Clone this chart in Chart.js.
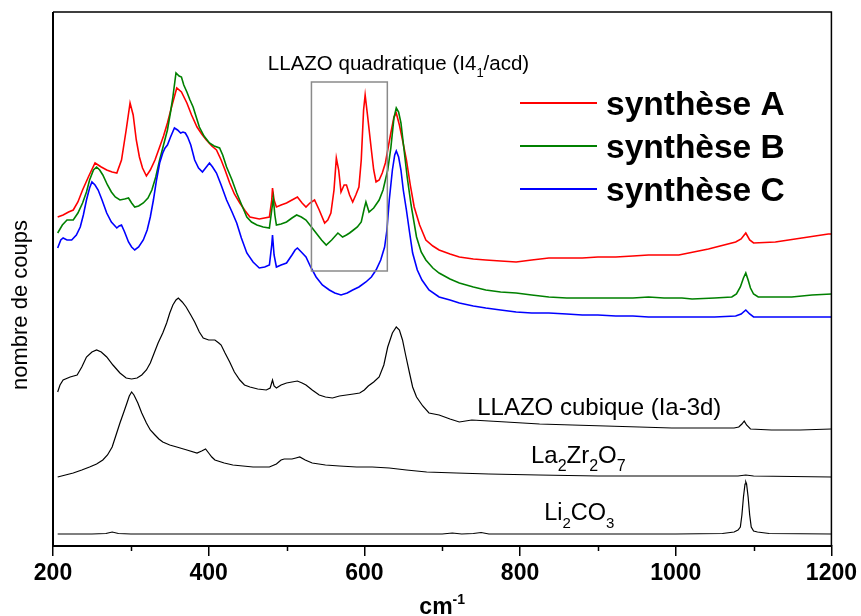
<!DOCTYPE html>
<html>
<head>
<meta charset="utf-8">
<script src="https://cdn.jsdelivr.net/npm/chart.js@4/dist/chart.umd.min.js"></script>
<style>
  html, body { margin: 0; padding: 0; background: #fff; }
  #wrap { width: 861px; height: 616px; }
</style>
</head>
<body>
<div id="wrap"><canvas id="c" width="861" height="616"></canvas></div>
<script>
// ---------- DATA (Raman shift in cm-1, intensity in arbitrary counts) ----------
const xTicks = [200, 400, 600, 800, 1000, 1200];
const seriesNames = ["synthèse A", "synthèse B", "synthèse C"];

const xA = [206,213,220,226,232,238,246,254,262,269,276,282,288,294,299,303,307,311,315,320,325,331,337,342,347,353,359,365,372,378,385,391,397,404,410,416,421,427,433,440,447,453,465,478,481,482,484,487,493,500,507,514,520,525,530,536,542,549,553,557,561,564,567,570,574,577,581,585,589,593,596,599,601,604,609,612,615,619,623,627,630,634,638,641,645,649,654,659,664,671,679,688,696,710,722,740,756,775,795,815,837,860,880,900,923,945,965,985,1004,1042,1077,1084,1090,1095,1100,1128,1162,1196,1200];
const yA = [329,331,334,336,344,356,370,383,379,376,374,373,386,416,443,431,406,389,378,370,376,386,399,410,423,441,458,454,443,431,419,412,406,400,396,386,376,363,352,343,335,329,327,329,346,358,346,339,341,343,346,349,343,339,343,346,336,323,326,333,356,388,376,354,361,361,351,344,351,359,386,436,451,431,396,376,364,366,373,383,396,413,429,433,421,406,386,361,339,321,306,300,296,292,289,287,286,285,284,286,288,288,288,289,289,290,291,291,291,297,304,307,313,306,303,304,308,312,312];

const xB = [206,212,218,226,232,238,243,247,252,256,260,264,270,275,280,286,292,297,301,305,310,316,322,327,332,337,342,347,351,354,358,362,365,368,372,376,380,384,388,394,401,407,414,418,423,430,436,443,449,455,462,470,478,481,483,485,487,493,500,507,513,519,525,532,538,545,551,558,566,572,577,581,586,591,596,600,602,606,612,619,624,630,634,638,641,644,647,651,655,660,667,673,679,688,696,710,722,740,756,775,795,815,837,860,880,900,923,945,965,985,1008,1021,1050,1072,1078,1083,1087,1090,1093,1096,1100,1106,1149,1175,1200];
const yB = [313,321,326,326,333,343,354,366,376,379,376,371,361,354,349,346,347,348,343,339,340,343,348,356,369,386,401,416,434,449,473,470,469,461,454,446,439,429,419,410,403,400,398,391,379,366,353,340,329,324,321,319,318,336,348,331,321,322,324,328,331,329,326,319,313,306,301,306,313,309,311,313,316,319,324,338,344,334,338,346,356,376,398,428,438,434,423,396,369,341,309,294,286,278,273,267,263,259,256,254,253,251,249,248,248,248,248,248,249,248,248,247,248,249,252,259,268,273,266,258,252,249,249,251,252];

const xC = [206,210,213,218,224,230,235,239,243,247,250,254,258,263,269,275,282,285,288,292,297,301,305,310,316,321,325,329,333,337,341,344,347,351,356,360,364,367,370,373,377,382,387,392,396,401,405,410,416,423,430,436,442,449,457,465,472,478,481,482,484,487,493,500,507,511,514,519,525,531,538,546,555,562,570,578,585,593,602,609,615,621,626,629,632,636,639,641,644,647,650,654,658,662,668,674,683,696,710,722,740,756,775,795,815,837,860,880,900,923,945,965,985,1008,1050,1077,1084,1090,1095,1100,1130,1160,1200];
const yC = [298,306,308,306,306,311,319,331,346,358,364,361,356,346,333,324,318,320,321,314,304,299,296,299,306,316,329,346,366,383,393,398,401,409,418,416,413,414,413,409,401,386,378,374,378,383,379,373,361,346,334,323,308,293,284,278,279,281,301,311,291,279,281,283,291,296,298,294,289,279,269,261,256,253,251,253,256,259,264,269,276,286,299,316,346,376,391,395,389,376,356,336,314,293,276,266,256,249,246,243,240,238,236,234,233,233,232,231,231,230,230,229,229,229,229,230,232,236,232,229,229,229,229];

const xCub = [206,209,213,222,231,237,243,250,256,262,269,277,286,294,301,308,314,320,325,330,335,341,346,350,354,358,361,366,371,377,382,388,393,400,408,413,416,421,427,433,440,446,453,463,474,479,482,484,487,493,500,507,514,520,525,533,542,550,559,568,577,586,594,600,605,612,619,625,630,636,641,645,649,653,658,662,667,675,683,696,710,722,738,760,782,825,867,910,953,995,1038,1075,1081,1085,1088,1091,1096,1123,1160,1200];
const yCub = [154,161,166,169,171,179,189,194,196,194,189,181,173,168,167,168,171,176,183,193,203,213,223,233,241,246,248,244,239,231,224,214,208,206,206,203,201,193,184,174,166,161,159,157,156,158,166,160,158,161,163,164,165,163,161,156,151,149,148,150,151,152,153,156,160,164,169,181,199,213,219,216,206,191,173,159,149,140,133,131,127,124,126,125,124,122,121,120,119,118,118,118,119,122,125,121,117,116,116,117];

const xLZO = [206,216,226,237,247,256,264,270,276,281,286,291,295,298,301,304,309,314,320,325,331,336,341,350,359,372,385,391,396,400,404,408,420,431,444,457,468,478,487,493,497,507,512,517,524,533,550,568,590,610,632,654,680,718,760,824,900,1000,1080,1090,1100,1200];
const yLZO = [69,71,73,76,79,82,86,91,99,111,123,134,143,150,154,151,143,133,123,116,111,107,104,101,99,96,93,95,97,93,89,86,83,81,80,79,79,79,82,86,87,87,88,89,86,83,81,80,79,79,78,76,74,73,72,71,70,70,70,71,70,69];

const xLCO = [206,250,268,276,284,300,400,500,600,700,713,725,740,750,760,900,1000,1060,1075,1080,1083,1085,1087,1089,1090,1091,1093,1095,1097,1100,1105,1120,1200];
const yLCO = [12,12,12.5,14,12.5,12,12,12,12,12,13,12,12.5,13.5,12,12,12,12.5,14,16,19,31,49,62,64,62,49,31,19,15,14,12.5,12];

// ---------- helpers ----------
const pts = (xs, ys) => xs.map((x, i) => ({ x: x, y: ys[i] }));
const FONT = "'Liberation Sans', Arial, sans-serif";

function richText(ctx, x, y, segs, size, weight) {
  let cx = x;
  segs.forEach(([t, k]) => {
    let s = size, dy = 0;
    if (k === 'sub') { s = Math.round(size * 0.65); dy = size * 0.33; }
    if (k === 'sup') { s = Math.round(size * 0.62); dy = -size * 0.42; }
    ctx.font = (weight || 'normal') + ' ' + s + 'px ' + FONT;
    ctx.fillText(t, cx, y + dy);
    cx += ctx.measureText(t).width;
  });
  return cx - x;
}
function richWidth(ctx, segs, size, weight) {
  let w = 0;
  segs.forEach(([t, k]) => {
    let s = size;
    if (k === 'sub') s = Math.round(size * 0.65);
    if (k === 'sup') s = Math.round(size * 0.62);
    ctx.font = (weight || 'normal') + ' ' + s + 'px ' + FONT;
    w += ctx.measureText(t).width;
  });
  return w;
}

const decor = {
  id: 'decor',
  afterDraw(chart) {
    const ctx = chart.ctx, a = chart.chartArea;
    const xs = chart.scales.x, ys = chart.scales.y;
    ctx.save();
    // frame (top / right / left)
    ctx.strokeStyle = '#000';
    ctx.lineWidth = 1.5;
    ctx.beginPath();
    ctx.moveTo(a.left, a.top); ctx.lineTo(a.right, a.top); ctx.lineTo(a.right, a.bottom);
    ctx.stroke();
    ctx.lineWidth = 2;
    ctx.beginPath();
    ctx.moveTo(a.left, a.top); ctx.lineTo(a.left, a.bottom);
    ctx.stroke();
    // minor ticks
    ctx.lineWidth = 1.5;
    for (let v = 300; v < 1200; v += 200) {
      const px = Math.round(xs.getPixelForValue(v)) + 0.5;
      ctx.beginPath(); ctx.moveTo(px, a.bottom); ctx.lineTo(px, a.bottom + 5); ctx.stroke();
    }
    // inset box (tetragonal region)
    ctx.strokeStyle = '#8a8a8a';
    ctx.lineWidth = 1.5;
    const bx1 = xs.getPixelForValue(532), bx2 = xs.getPixelForValue(629.5);
    const by1 = ys.getPixelForValue(464), by2 = ys.getPixelForValue(275);
    ctx.strokeRect(bx1, by1, bx2 - bx1, by2 - by1);

    ctx.fillStyle = '#000';
    ctx.textBaseline = 'alphabetic';
    ctx.textAlign = 'left';
    // annotations (anchored in data coordinates)
    richText(ctx, xs.getPixelForValue(476), ys.getPixelForValue(476),
      [['LLAZO quadratique (I4', 'n'], ['1', 'sub'], ['/acd)', 'n']], 20.5);
    richText(ctx, xs.getPixelForValue(745), ys.getPixelForValue(131),
      [['LLAZO cubique (Ia-3d)', 'n']], 24);
    richText(ctx, xs.getPixelForValue(814), ys.getPixelForValue(83),
      [['La', 'n'], ['2', 'sub'], ['Zr', 'n'], ['2', 'sub'], ['O', 'n'], ['7', 'sub']], 24);
    richText(ctx, xs.getPixelForValue(831), ys.getPixelForValue(26),
      [['Li', 'n'], ['2', 'sub'], ['CO', 'n'], ['3', 'sub']], 23.5);

    // legend
    const colors = ['#ff0000', '#008000', '#0000ff'];
    const legY = [103, 146, 189];
    seriesNames.forEach((n, i) => {
      ctx.strokeStyle = colors[i];
      ctx.lineWidth = 2;
      ctx.beginPath(); ctx.moveTo(520, legY[i]); ctx.lineTo(597, legY[i]); ctx.stroke();
      ctx.font = 'bold 33.5px ' + FONT;
      ctx.fillStyle = '#000';
      ctx.fillText(n, 606, legY[i] + 12);
    });

    // axis titles
    const segs = [['cm', 'n'], ['-1', 'sup']];
    const w = richWidth(ctx, segs, 23, 'bold');
    richText(ctx, (a.left + a.right) / 2 - w / 2, 614, segs, 23, 'bold');

    ctx.translate(27, 305);
    ctx.rotate(-Math.PI / 2);
    ctx.font = '22px ' + FONT;
    ctx.textAlign = 'center';
    ctx.fillText('nombre de coups', 0, 0);
    ctx.restore();
  }
};

const ds = (label, xs, ys, color, w) => ({
  label: label, data: pts(xs, ys), borderColor: color, backgroundColor: color,
  borderWidth: w, pointRadius: 0, tension: 0, fill: false
});

new Chart(document.getElementById('c'), {
  type: 'line',
  data: {
    datasets: [
      ds('Li2CO3', xLCO, yLCO, '#000', 1.2),
      ds('La2Zr2O7', xLZO, yLZO, '#000', 1.2),
      ds('LLAZO cubique', xCub, yCub, '#000', 1.2),
      ds(seriesNames[2], xC, yC, '#0000ff', 1.6),
      ds(seriesNames[1], xB, yB, '#008000', 1.6),
      ds(seriesNames[0], xA, yA, '#ff0000', 1.6)
    ]
  },
  options: {
    responsive: false,
    animation: false,
    devicePixelRatio: 1,
    layout: { padding: { left: 53, right: 26, top: 12, bottom: 0 } },
    plugins: { legend: { display: false }, tooltip: { enabled: false } },
    scales: {
      x: {
        type: 'linear', min: 200, max: 1200,
        afterFit(s) { s.height = 70; },
        afterBuildTicks(s) { s.ticks = xTicks.map(v => ({ value: v })); },
        ticks: {
          color: '#000', font: { family: FONT, size: 23, weight: 'bold' }, padding: 4, maxRotation: 0,
          callback: (v) => String(v)
        },
        grid: { drawOnChartArea: false, drawTicks: true, tickLength: 10, color: '#000', lineWidth: 1.5 },
        border: { display: true, color: '#000', width: 2 }
      },
      y: { display: false, min: 0, max: 534 }
    }
  },
  plugins: [decor]
});
</script>
</body>
</html>
